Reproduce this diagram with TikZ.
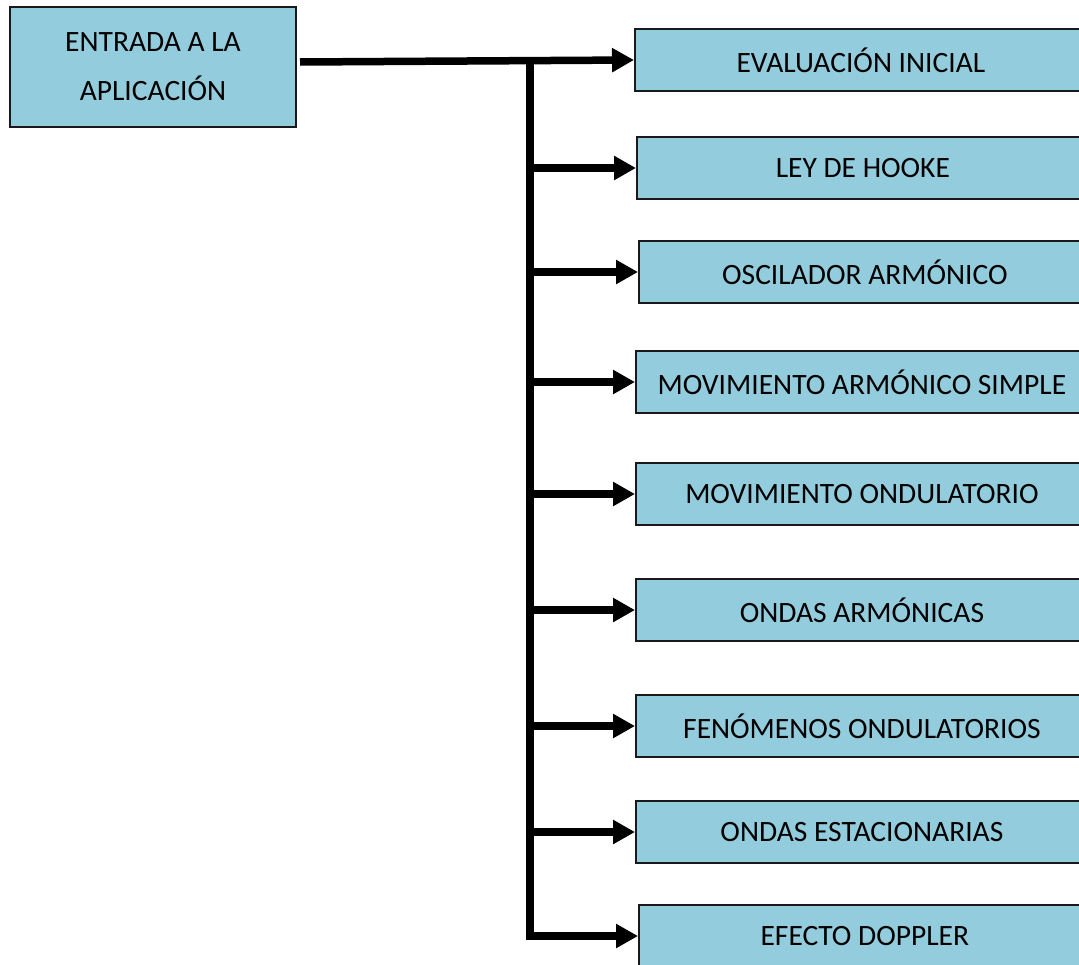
\documentclass[tikz,border=0pt]{standalone}
\usepackage{fontspec}
\setmainfont{Carlito}
\usetikzlibrary{arrows.meta}
\definecolor{boxblue}{HTML}{93CDDD}
\begin{document}
\begin{tikzpicture}[x=1pt,y=-1pt,
  box/.style={draw=black!90, line width=1.8pt, fill=boxblue, inner sep=0pt,
    font=\fontsize{29.5}{49}\selectfont, text=black},
  topic/.style={box, anchor=west, minimum width=452pt, minimum height=62pt},
  link/.style={line width=7.5pt, -{Triangle[length=22pt,width=23pt]}},
  trunk/.style={line width=7.5pt}]
  \clip (0,0) rectangle (1079,964);
  \fill[white] (0,0) rectangle (1079,964);

  % entry box
  \node[box, minimum width=286pt, minimum height=120pt, align=center] (entry) at (153,67)
    {ENTRADA A LA\\APLICACIÓN};

  % topic boxes
  \node[topic] (t1) at (634,60)  {EVALUACIÓN INICIAL};
  \node[topic] (t2) at (636,168) {LEY DE HOOKE};
  \node[topic] (t3) at (638,272) {OSCILADOR ARMÓNICO};
  \node[topic] (t4) at (635,382) {MOVIMIENTO ARMÓNICO SIMPLE};
  \node[topic] (t5) at (635,494) {MOVIMIENTO ONDULATORIO};
  \node[topic] (t6) at (635,610) {ONDAS ARMÓNICAS};
  \node[topic] (t7) at (635,726) {FENÓMENOS ONDULATORIOS};
  \node[topic] (t8) at (635,832) {ONDAS ESTACIONARIAS};
  \node[topic] (t9) at (638,936) {EFECTO DOPPLER};

  % connectors
  \coordinate (start) at (300,62);
  \coordinate (top) at (530,61);
  \draw[link] (start) -- (t1.west);
  \draw[trunk, line cap=rect] (top) -- (530,936);
  \draw[link] (530,936) -- (t9.west);
  \foreach \n in {t2,t3,t4,t5,t6,t7,t8}
    \draw[link] (530,0 |- \n.west) -- (\n.west);
\end{tikzpicture}
\end{document}
